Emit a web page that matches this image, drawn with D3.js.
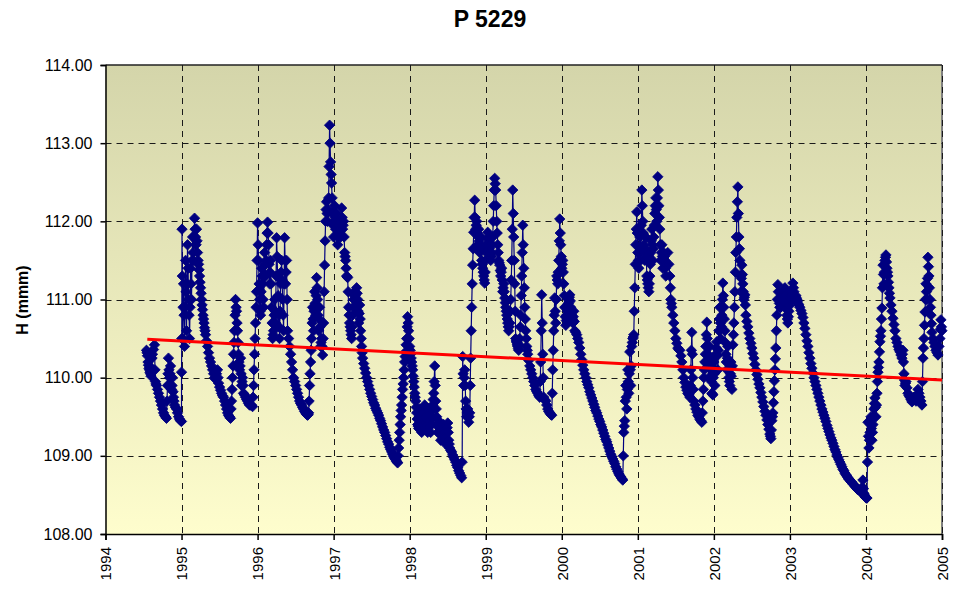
<!DOCTYPE html>
<html><head><meta charset="utf-8">
<script src="https://cdn.jsdelivr.net/npm/d3@7"></script>
<style>
body{margin:0;background:#fff}
svg{display:block}
text{font-family:"Liberation Sans",Arial,sans-serif}
</style>
</head><body>
<svg id="c" width="962" height="590"></svg>
<script>
// Groundwater level H (mmm) for piezometer P 5229 — per year: [fraction of year, level]
const y1994 = [[.539,110.35],[.546,110.32],[.552,110.28],[.559,110.2],[.565,110.16],[.572,110.12],[.579,110.1],[.585,110.07],[.592,110.05],[.598,110.02],[.605,110.12],[.612,110.25],[.618,110.3],[.631,110.36],[.644,110.42],[.651,110.1],[.657,109.95],[.664,109.92],[.671,109.9],[.684,109.85],[.697,109.8],[.710,109.75],[.723,109.7],[.736,109.65],[.750,109.6],[.763,109.55],[.776,109.52],[.789,109.5],[.802,109.48],[.809,109.7],[.815,109.9],[.822,110.05],[.828,110.25],[.835,110.1],[.842,110.0],[.848,110.05],[.855,110.15],[.862,110.0],[.868,109.85],[.875,109.9],[.881,110.0],[.888,109.82],[.894,109.75],[.901,109.7],[.907,109.65],[.921,109.62],[.934,109.6],[.947,109.55],[.960,109.5],[.973,109.47],[.986,109.45],[.999,109.44]];
const y1995 = [[.000,110.07],[.003,110.5],[.006,111.9],[.010,111.3],[.013,110.5],[.020,110.9],[.026,111.2],[.033,110.8],[.039,110.4],[.046,110.9],[.053,111.5],[.059,111.1],[.066,110.6],[.072,111.2],[.079,111.7],[.086,111.4],[.092,111.0],[.099,110.8],[.105,110.5],[.112,110.9],[.118,111.4],[.125,111.2],[.131,111.0],[.138,111.5],[.145,111.8],[.151,111.6],[.158,111.5],[.164,111.8],[.171,112.04],[.178,111.9],[.184,111.8],[.191,111.7],[.197,111.9],[.204,111.75],[.210,111.6],[.217,111.5],[.224,111.45],[.230,111.38],[.237,111.3],[.243,111.22],[.250,111.15],[.257,111.08],[.263,111.0],[.270,110.93],[.276,110.87],[.283,110.8],[.289,110.75],[.296,110.7],[.302,110.64],[.309,110.6],[.316,110.55],[.329,110.47],[.342,110.4],[.355,110.32],[.368,110.25],[.381,110.2],[.394,110.15],[.408,110.1],[.421,110.05],[.434,110.0],[.447,109.98],[.460,110.05],[.473,110.1],[.480,110.0],[.487,109.93],[.500,109.88],[.513,109.84],[.526,109.8],[.539,109.77],[.552,109.75],[.566,109.7],[.579,109.65],[.592,109.6],[.605,109.55],[.618,109.52],[.631,109.5],[.644,109.48],[.651,109.6],[.657,109.7],[.664,109.85],[.671,110.0],[.677,110.15],[.684,110.3],[.690,110.45],[.697,110.6],[.704,110.8],[.710,111.0],[.717,110.9],[.723,110.85],[.730,110.7],[.736,110.6],[.743,110.45],[.750,110.3],[.756,110.2],[.763,110.1],[.770,110.15],[.776,110.25],[.783,110.05],[.789,109.9],[.796,109.95],[.802,110.0],[.809,109.9],[.815,109.8],[.828,109.78],[.842,109.75],[.855,109.72],[.868,109.7],[.881,109.67],[.894,109.65],[.907,109.65],[.920,109.65],[.934,109.63],[.940,109.75],[.947,109.9],[.953,110.1],[.960,110.3],[.967,110.5],[.973,110.7],[.980,110.9],[.986,111.1],[.993,111.5]];
const y1996 = [[.000,111.98],[.007,111.7],[.013,111.5],[.020,111.2],[.026,111.0],[.033,110.85],[.039,110.8],[.046,111.1],[.053,111.4],[.059,111.3],[.066,111.2],[.072,111.0],[.079,110.9],[.086,111.3],[.092,111.6],[.099,111.45],[.105,111.3],[.112,111.5],[.118,111.7],[.125,111.85],[.131,111.99],[.138,111.85],[.145,111.7],[.151,111.45],[.158,111.2],[.164,111.35],[.171,111.5],[.178,111.2],[.184,110.9],[.191,110.7],[.197,110.5],[.204,110.55],[.210,110.6],[.217,110.8],[.224,111.0],[.230,110.85],[.237,110.7],[.243,111.3],[.250,111.79],[.257,111.55],[.263,111.3],[.270,111.05],[.276,110.8],[.283,110.65],[.289,110.5],[.296,110.85],[.302,111.2],[.309,111.35],[.316,111.5],[.322,111.25],[.329,111.0],[.336,110.8],[.342,110.6],[.349,111.2],[.355,111.79],[.362,111.5],[.368,111.2],[.375,111.35],[.381,111.5],[.388,111.0],[.394,110.6],[.408,110.5],[.421,110.4],[.434,110.3],[.447,110.2],[.460,110.1],[.473,110.0],[.487,109.95],[.500,109.9],[.513,109.85],[.526,109.8],[.539,109.75],[.552,109.7],[.566,109.67],[.579,109.65],[.592,109.62],[.605,109.6],[.618,109.57],[.631,109.55],[.644,109.53],[.657,109.52],[.664,109.53],[.671,109.55],[.677,109.7],[.684,109.9],[.690,110.05],[.697,110.2],[.704,110.35],[.710,110.5],[.717,110.7],[.723,110.9],[.730,110.75],[.736,110.6],[.743,110.85],[.750,111.1],[.756,110.95],[.763,110.8],[.770,111.05],[.776,111.28],[.783,111.15],[.789,111.0],[.796,110.8],[.802,110.6],[.809,110.75],[.815,110.9],[.822,110.65],[.828,110.4],[.835,110.45],[.842,110.5],[.848,110.4],[.855,110.29],[.862,110.5],[.868,110.7],[.875,111.1],[.881,111.44],[.888,111.75],[.894,112.0],[.901,112.15],[.907,112.25],[.914,112.1],[.920,112.0],[.927,112.15],[.934,112.3],[.940,112.7],[.947,113.23],[.953,113.0],[.960,112.76],[.967,112.6],[.973,112.49],[.980,112.3],[.986,112.1],[.993,111.95]];
const y1997 = [[.000,111.8],[.007,112.0],[.013,112.2],[.020,112.05],[.026,111.9],[.033,112.0],[.039,112.1],[.046,111.9],[.053,111.7],[.059,111.8],[.066,111.9],[.072,111.95],[.079,112.0],[.086,111.9],[.092,111.8],[.099,112.0],[.105,112.17],[.112,112.05],[.118,111.9],[.125,111.95],[.131,112.0],[.138,111.8],[.145,111.6],[.151,111.55],[.158,111.5],[.164,111.4],[.171,111.3],[.178,111.29],[.184,111.28],[.191,111.1],[.197,110.9],[.204,110.8],[.210,110.7],[.217,110.65],[.224,110.6],[.230,110.55],[.237,110.5],[.243,110.65],[.250,110.8],[.257,110.9],[.263,111.0],[.270,111.05],[.276,111.1],[.283,111.05],[.289,111.0],[.296,111.08],[.302,111.15],[.309,111.08],[.316,111.0],[.322,110.85],[.329,110.7],[.336,110.82],[.342,110.93],[.349,110.75],[.355,110.6],[.362,110.5],[.368,110.4],[.375,110.32],[.381,110.25],[.395,110.18],[.408,110.12],[.421,110.06],[.434,110.0],[.447,109.95],[.460,109.9],[.474,109.85],[.487,109.8],[.500,109.76],[.513,109.72],[.526,109.68],[.539,109.65],[.552,109.61],[.565,109.58],[.579,109.55],[.592,109.52],[.605,109.48],[.618,109.45],[.631,109.41],[.644,109.37],[.658,109.33],[.671,109.3],[.684,109.26],[.697,109.22],[.710,109.18],[.723,109.15],[.737,109.11],[.750,109.08],[.763,109.05],[.776,109.02],[.789,108.99],[.802,108.97],[.815,108.95],[.828,108.93],[.835,108.92],[.842,108.91],[.848,109.0],[.855,109.1],[.862,109.2],[.868,109.3],[.875,109.4],[.881,109.5],[.888,109.58],[.894,109.65],[.901,109.75],[.907,109.85],[.914,109.92],[.920,110.0],[.927,110.1],[.934,110.2],[.940,110.27],[.947,110.33],[.953,110.42],[.960,110.5],[.967,110.65],[.973,110.78],[.980,110.7],[.986,110.6],[.993,110.5]];
const y1998 = [[.000,110.4],[.007,110.35],[.013,110.3],[.020,110.25],[.026,110.2],[.033,110.15],[.039,110.1],[.046,110.02],[.053,109.95],[.059,109.88],[.066,109.8],[.072,109.75],[.079,109.7],[.086,109.62],[.092,109.55],[.099,109.47],[.105,109.4],[.112,109.38],[.118,109.35],[.125,109.5],[.131,109.6],[.138,109.52],[.145,109.45],[.151,109.38],[.158,109.3],[.164,109.42],[.171,109.55],[.178,109.48],[.184,109.4],[.191,109.52],[.197,109.65],[.204,109.5],[.210,109.35],[.217,109.42],[.224,109.5],[.230,109.4],[.237,109.3],[.243,109.45],[.250,109.6],[.257,109.52],[.263,109.45],[.270,109.38],[.276,109.3],[.283,109.4],[.289,109.5],[.296,109.58],[.302,109.65],[.309,109.72],[.316,109.8],[.322,109.95],[.329,110.15],[.336,109.9],[.342,109.7],[.349,109.6],[.355,109.5],[.362,109.4],[.368,109.3],[.375,109.38],[.381,109.45],[.388,109.4],[.394,109.35],[.401,109.28],[.408,109.2],[.414,109.28],[.421,109.35],[.428,109.3],[.434,109.25],[.441,109.32],[.447,109.4],[.454,109.35],[.460,109.3],[.467,109.22],[.473,109.15],[.480,109.22],[.487,109.3],[.493,109.36],[.500,109.42],[.507,109.3],[.513,109.2],[.520,109.15],[.526,109.1],[.539,109.07],[.552,109.05],[.566,109.01],[.579,108.98],[.592,108.95],[.605,108.92],[.618,108.88],[.631,108.85],[.644,108.81],[.657,108.78],[.671,108.75],[.684,108.72],[.690,108.92],[.697,110.27],[.703,110.05],[.710,109.9],[.717,110.0],[.723,110.1],[.730,109.9],[.736,109.7],[.743,109.6],[.750,109.5],[.756,109.55],[.763,109.6],[.770,109.5],[.776,109.43],[.783,109.5],[.789,109.55],[.796,109.9],[.802,110.25],[.809,110.6],[.815,110.9],[.822,111.2],[.828,111.44],[.835,111.65],[.842,111.86],[.848,112.05],[.855,112.27],[.862,112.05],[.868,111.9],[.875,111.95],[.881,112.0],[.888,111.85],[.894,111.7],[.901,111.8],[.907,111.9],[.914,111.75],[.920,111.6],[.927,111.7],[.934,111.8],[.940,111.65],[.947,111.5],[.953,111.45],[.960,111.4],[.967,111.35],[.973,111.3],[.980,111.25],[.986,111.21],[.993,111.35]];
const y1999 = [[.000,111.5],[.007,111.6],[.013,111.7],[.020,111.78],[.026,111.86],[.033,111.72],[.039,111.6],[.046,111.65],[.053,111.7],[.059,111.6],[.066,111.5],[.072,111.55],[.079,111.6],[.086,111.7],[.092,111.8],[.099,112.0],[.105,112.2],[.112,112.4],[.118,112.55],[.125,112.48],[.131,112.4],[.138,112.2],[.145,112.0],[.151,111.85],[.158,111.7],[.164,111.6],[.171,111.5],[.178,111.47],[.184,111.44],[.191,111.37],[.197,111.3],[.204,111.35],[.210,111.4],[.217,111.25],[.224,111.1],[.230,111.15],[.237,111.2],[.243,111.1],[.250,111.02],[.257,110.96],[.263,110.9],[.270,110.85],[.276,110.8],[.283,110.75],[.289,110.7],[.296,110.65],[.302,110.6],[.309,110.65],[.316,110.7],[.322,110.85],[.329,111.0],[.336,111.25],[.342,111.5],[.349,111.9],[.355,112.4],[.362,112.1],[.368,111.8],[.375,111.5],[.381,111.2],[.388,110.85],[.394,110.5],[.401,110.47],[.408,110.45],[.414,110.42],[.421,110.4],[.428,110.37],[.434,110.35],[.441,110.42],[.447,110.5],[.454,110.65],[.460,110.8],[.467,111.05],[.473,111.3],[.480,111.6],[.487,111.95],[.493,111.7],[.500,111.4],[.507,111.15],[.513,110.9],[.520,110.75],[.526,110.6],[.533,110.5],[.539,110.4],[.546,110.35],[.552,110.3],[.566,110.22],[.579,110.15],[.592,110.1],[.605,110.05],[.618,110.0],[.631,109.95],[.644,109.9],[.657,109.85],[.671,109.82],[.684,109.8],[.697,109.77],[.710,109.75],[.717,109.95],[.723,110.2],[.730,110.6],[.736,111.06],[.743,110.7],[.750,110.3],[.756,110.0],[.763,109.75],[.776,109.72],[.789,109.7],[.802,109.65],[.815,109.6],[.828,109.57],[.842,109.55],[.855,109.53],[.868,109.52],[.875,109.8],[.881,110.1],[.888,110.35],[.894,110.6],[.901,110.8],[.907,111.02],[.914,110.85],[.920,110.7],[.927,111.0],[.934,111.3],[.940,111.25],[.947,111.2],[.953,111.35],[.960,111.5],[.967,111.75],[.973,112.03],[.980,111.85],[.986,111.7],[.993,111.55]];
const y2000 = [[.000,111.4],[.007,111.45],[.013,111.5],[.020,111.35],[.026,111.2],[.033,111.05],[.039,110.9],[.046,110.78],[.053,110.67],[.059,110.73],[.066,110.8],[.072,110.85],[.079,110.9],[.086,110.95],[.092,111.0],[.099,111.03],[.105,111.06],[.112,110.98],[.118,110.9],[.125,110.85],[.131,110.8],[.138,110.75],[.145,110.7],[.151,110.78],[.158,110.85],[.164,110.72],[.171,110.6],[.184,110.58],[.197,110.55],[.210,110.5],[.224,110.45],[.237,110.38],[.250,110.3],[.263,110.23],[.276,110.16],[.289,110.1],[.302,110.05],[.316,110.0],[.329,109.95],[.342,109.91],[.355,109.87],[.368,109.82],[.381,109.78],[.395,109.74],[.408,109.7],[.421,109.66],[.434,109.62],[.447,109.58],[.460,109.55],[.474,109.51],[.487,109.47],[.500,109.44],[.513,109.4],[.526,109.37],[.539,109.33],[.552,109.29],[.565,109.25],[.579,109.21],[.592,109.18],[.605,109.14],[.618,109.1],[.631,109.06],[.644,109.02],[.658,108.99],[.671,108.96],[.684,108.93],[.697,108.9],[.710,108.86],[.723,108.83],[.737,108.8],[.750,108.77],[.763,108.75],[.776,108.73],[.789,108.71],[.802,108.69],[.809,109.0],[.815,109.3],[.822,109.38],[.828,109.45],[.835,109.7],[.842,109.9],[.848,109.75],[.855,109.6],[.862,109.85],[.868,110.1],[.875,109.95],[.881,109.8],[.888,110.05],[.894,110.33],[.901,110.1],[.907,109.9],[.914,110.15],[.920,110.4],[.927,110.45],[.934,110.5],[.940,110.52],[.947,110.55],[.953,110.85],[.960,111.15],[.967,111.45],[.973,111.7],[.980,111.9],[.986,112.12],[.993,111.85]];
const y2001 = [[.000,111.6],[.007,111.5],[.013,111.4],[.020,111.6],[.026,111.8],[.033,111.65],[.039,111.5],[.046,111.95],[.053,112.4],[.059,112.2],[.066,112.0],[.072,111.85],[.079,111.7],[.086,111.6],[.092,111.5],[.099,111.65],[.105,111.8],[.112,111.55],[.118,111.3],[.125,111.25],[.131,111.2],[.138,111.15],[.145,111.1],[.151,111.2],[.158,111.3],[.164,111.45],[.171,111.6],[.178,111.75],[.184,111.9],[.191,111.7],[.197,111.5],[.204,111.65],[.210,111.8],[.217,111.95],[.224,112.1],[.230,112.2],[.237,112.3],[.243,112.15],[.250,112.0],[.257,112.3],[.263,112.57],[.270,112.4],[.276,112.2],[.283,112.05],[.289,111.9],[.296,111.7],[.302,111.5],[.309,111.6],[.316,111.7],[.322,111.55],[.329,111.4],[.336,111.5],[.342,111.6],[.349,111.55],[.355,111.5],[.362,111.4],[.368,111.3],[.381,111.45],[.394,111.6],[.408,111.45],[.421,111.3],[.428,111.15],[.434,111.0],[.441,110.95],[.447,110.9],[.460,110.8],[.473,110.7],[.487,110.6],[.500,110.5],[.513,110.44],[.526,110.38],[.539,110.36],[.552,110.35],[.566,110.28],[.579,110.2],[.592,110.1],[.605,110.0],[.618,109.94],[.631,109.88],[.644,109.84],[.657,109.8],[.671,109.78],[.684,109.75],[.690,109.9],[.697,110.1],[.704,110.35],[.710,110.58],[.717,110.3],[.723,110.0],[.730,109.85],[.736,109.7],[.750,109.65],[.763,109.6],[.776,109.56],[.789,109.52],[.802,109.5],[.815,109.47],[.828,109.45],[.842,109.43],[.848,109.55],[.855,109.7],[.862,109.85],[.868,110.0],[.875,110.1],[.881,110.2],[.888,110.3],[.894,110.4],[.901,110.55],[.907,110.71],[.914,110.5],[.920,110.3],[.927,110.15],[.934,110.0],[.940,110.2],[.947,110.4],[.953,110.25],[.960,110.1],[.967,109.95],[.973,109.8],[.980,109.79],[.986,109.78],[.993,110.0]];
const y2002 = [[.000,110.2],[.007,110.05],[.013,109.9],[.020,110.1],[.026,110.3],[.033,110.38],[.039,110.46],[.046,110.28],[.053,110.1],[.059,110.35],[.066,110.6],[.072,110.75],[.079,110.9],[.086,110.7],[.092,110.5],[.099,110.65],[.105,110.8],[.112,111.0],[.118,111.21],[.125,111.05],[.131,110.9],[.138,110.75],[.145,110.6],[.151,110.45],[.158,110.3],[.164,110.2],[.171,110.1],[.178,110.25],[.184,110.4],[.191,110.2],[.197,110.0],[.204,109.95],[.210,109.9],[.217,110.05],[.224,110.2],[.230,110.02],[.237,109.85],[.243,110.15],[.250,110.42],[.257,110.55],[.263,110.7],[.270,110.9],[.276,111.1],[.283,111.35],[.289,111.6],[.296,111.8],[.302,112.05],[.309,112.25],[.316,112.44],[.322,112.1],[.329,111.8],[.336,111.65],[.342,111.5],[.349,111.3],[.355,111.1],[.362,111.27],[.368,111.44],[.375,111.32],[.381,111.2],[.388,111.1],[.394,111.0],[.401,111.03],[.408,111.06],[.414,110.93],[.421,110.8],[.434,110.72],[.447,110.65],[.460,110.57],[.473,110.5],[.487,110.44],[.500,110.38],[.513,110.31],[.526,110.25],[.539,110.17],[.552,110.1],[.566,110.04],[.579,109.98],[.592,109.92],[.605,109.87],[.618,109.81],[.631,109.75],[.644,109.69],[.657,109.63],[.671,109.57],[.684,109.52],[.697,109.46],[.710,109.4],[.723,109.34],[.736,109.28],[.743,109.25],[.750,109.22],[.756,109.33],[.763,109.45],[.770,109.5],[.776,109.55],[.783,109.68],[.789,109.82],[.796,109.96],[.802,110.1],[.809,110.24],[.815,110.38],[.822,110.6],[.828,110.8],[.835,111.0],[.842,111.19],[.848,111.1],[.855,111.0],[.862,110.95],[.868,110.9],[.875,110.9],[.881,110.9],[.888,110.95],[.894,111.0],[.901,111.05],[.907,111.1],[.914,111.05],[.920,111.0],[.927,111.07],[.934,111.15],[.940,111.05],[.947,110.95],[.953,110.88],[.960,110.8],[.967,110.75],[.973,110.7],[.980,110.78],[.986,110.85],[.993,110.92]];
const y2003 = [[.000,111.0],[.007,111.05],[.013,111.1],[.020,111.05],[.026,111.0],[.033,111.1],[.039,111.21],[.046,111.15],[.053,111.1],[.059,111.05],[.066,111.0],[.072,111.03],[.079,111.05],[.086,111.02],[.092,111.0],[.099,110.98],[.105,110.95],[.118,110.93],[.131,110.9],[.145,110.86],[.158,110.82],[.171,110.77],[.184,110.7],[.197,110.63],[.210,110.55],[.224,110.47],[.237,110.4],[.250,110.32],[.263,110.25],[.276,110.18],[.289,110.12],[.302,110.06],[.316,110.0],[.329,109.95],[.342,109.9],[.355,109.85],[.368,109.8],[.381,109.75],[.394,109.7],[.408,109.65],[.421,109.6],[.434,109.56],[.447,109.52],[.460,109.48],[.473,109.44],[.487,109.39],[.500,109.35],[.513,109.31],[.526,109.27],[.539,109.23],[.552,109.2],[.566,109.16],[.579,109.12],[.592,109.08],[.605,109.05],[.618,109.01],[.631,108.98],[.644,108.95],[.657,108.92],[.671,108.89],[.684,108.86],[.697,108.83],[.710,108.81],[.723,108.78],[.736,108.76],[.750,108.74],[.763,108.72],[.776,108.7],[.789,108.69],[.802,108.67],[.815,108.66],[.828,108.64],[.842,108.63],[.855,108.61],[.868,108.6],[.881,108.58],[.894,108.57],[.907,108.56],[.920,108.55],[.934,108.54],[.947,108.53],[.953,108.6],[.960,108.69],[.967,108.58],[.973,108.52],[.980,108.5],[.986,108.48],[.993,108.47]];
const y2004 = [[.000,108.47],[.007,108.46],[.013,108.46],[.020,108.92],[.026,109.43],[.033,109.25],[.039,109.1],[.046,109.2],[.053,109.3],[.059,109.4],[.066,109.5],[.072,109.35],[.079,109.2],[.086,109.3],[.092,109.4],[.099,109.5],[.105,109.6],[.112,109.67],[.118,109.74],[.125,109.62],[.131,109.5],[.138,109.65],[.145,109.8],[.151,109.95],[.158,110.07],[.164,110.13],[.171,110.2],[.178,110.33],[.184,110.46],[.191,110.53],[.197,110.6],[.204,110.75],[.210,110.89],[.217,111.15],[.224,111.44],[.230,111.32],[.237,111.2],[.243,111.35],[.250,111.5],[.257,111.54],[.263,111.57],[.270,111.48],[.276,111.4],[.283,111.35],[.289,111.3],[.296,111.22],[.302,111.15],[.309,111.08],[.316,111.02],[.329,110.93],[.342,110.85],[.355,110.76],[.368,110.68],[.381,110.6],[.394,110.5],[.408,110.45],[.421,110.4],[.434,110.36],[.447,110.33],[.460,110.29],[.473,110.25],[.480,110.3],[.487,110.35],[.493,110.2],[.500,110.05],[.507,109.97],[.513,109.9],[.520,109.93],[.526,109.95],[.539,109.87],[.552,109.8],[.566,109.77],[.579,109.75],[.592,109.72],[.605,109.69],[.618,109.72],[.631,109.75],[.644,109.72],[.658,109.7],[.671,109.78],[.684,109.85],[.697,109.8],[.710,109.75],[.723,109.7],[.736,109.65],[.743,109.95],[.750,110.25],[.756,110.38],[.763,110.5],[.770,110.67],[.776,110.84],[.783,111.0],[.789,111.2],[.796,111.1],[.802,111.0],[.809,111.27],[.815,111.54],[.822,111.42],[.828,111.3],[.835,111.15],[.842,111.0],[.848,110.9],[.855,110.8],[.862,110.69],[.868,110.58],[.881,110.5],[.894,110.45],[.907,110.4],[.920,110.35],[.934,110.32],[.947,110.29],[.960,110.4],[.973,110.5],[.980,110.62],[.986,110.74],[.993,110.65],[.999,110.6]];

const seriesYears = [1994,1995,1996,1997,1998,1999,2000,2001,2002,2003,2004];
const seriesByYear = [y1994,y1995,y1996,y1997,y1998,y1999,y2000,y2001,y2002,y2003,y2004];

// linear trend line end points [decimal year, level]
const trend = [[1994.55,110.49],[2005.0,109.97]];

const xTicks = [1994,1995,1996,1997,1998,1999,2000,2001,2002,2003,2004,2005];
const yTicks = [108,109,110,111,112,113,114];
const chartTitle = "P 5229";
const yTitle = "H (mmm)";

const data = seriesYears.flatMap((yr,i) => seriesByYear[i].map(([f,v]) => ({t: yr + f, v})));

const svg = d3.select("#c");
const L = 105.5, R = 942, T = 65, B = 534;
const x = d3.scaleLinear().domain([1994,2005]).range([L,R]);
const y = d3.scaleLinear().domain([108,114]).range([B,T]);

const defs = svg.append("defs");
const grad = defs.append("linearGradient").attr("id","bg").attr("x1",0).attr("y1",0).attr("x2",0).attr("y2",1);
grad.append("stop").attr("offset","0%").attr("stop-color","#d4d5aa");
grad.append("stop").attr("offset","100%").attr("stop-color","#fefdcd");

svg.append("rect").attr("x",L).attr("y",T).attr("width",R-L).attr("height",B-T).attr("fill","url(#bg)");

// right border (gray) and top border
svg.append("line").attr("x1",R).attr("x2",R).attr("y1",T).attr("y2",B).attr("stroke","#808080").attr("stroke-width",2);
svg.append("line").attr("x1",L).attr("x2",R).attr("y1",T).attr("y2",T).attr("stroke","#222").attr("stroke-width",1.5);

// gridlines
const grid = svg.append("g").attr("stroke","#1a1a1a").attr("stroke-width",1).attr("stroke-dasharray","6,5").attr("fill","none");
grid.selectAll(".hg").data(yTicks.filter(d => d > 108 && d < 114)).join("line")
  .attr("x1",L).attr("x2",R).attr("y1",d => Math.round(y(d))+0.5).attr("y2",d => Math.round(y(d))+0.5);
grid.selectAll(".vg").data(xTicks.filter(d => d > 1994)).join("line")
  .attr("x1",d => Math.round(x(d))+0.5).attr("x2",d => Math.round(x(d))+0.5).attr("y1",T).attr("y2",B);

// series line
svg.append("path").datum(data)
  .attr("fill","none").attr("stroke","#000080").attr("stroke-width",1.2)
  .attr("d", d3.line().x(d => x(d.t)).y(d => y(d.v)));

// diamond markers
const diamond = d3.symbol(d3.symbolSquare, 54)();
svg.append("g").selectAll("path").data(data).join("path")
  .attr("d", diamond)
  .attr("transform", d => `translate(${x(d.t)},${y(d.v)}) rotate(45)`)
  .attr("fill","#000080").attr("stroke","#000080").attr("stroke-width",0.8);

// trend line
svg.append("path").datum(trend)
  .attr("fill","none").attr("stroke","#ff0000").attr("stroke-width",3)
  .attr("d", d3.line().x(d => x(d[0])).y(d => y(d[1])));

// axes
const yAxis = svg.append("g").attr("transform",`translate(${L},0)`)
  .call(d3.axisLeft(y).tickValues(yTicks).tickFormat(d3.format(".2f")).tickSize(5).tickPadding(8));
yAxis.selectAll("text").attr("font-size",16).attr("fill","#000").attr("font-family","Liberation Sans, Arial, sans-serif");
yAxis.selectAll("line,path").attr("stroke","#000").attr("stroke-width",1.5);

const xAxis = svg.append("g").attr("transform",`translate(0,${B})`)
  .call(d3.axisBottom(x).tickValues(xTicks).tickFormat(d3.format("d")).tickSize(6));
xAxis.selectAll("text").attr("font-size",15).attr("fill","#000").attr("font-family","Liberation Sans, Arial, sans-serif")
  .attr("transform","rotate(-90)").attr("text-anchor","end").attr("x",-13).attr("y",0).attr("dy","0.36em");
xAxis.selectAll("line,path").attr("stroke","#000").attr("stroke-width",1.5);

// titles
svg.append("text").attr("x",490).attr("y",27).attr("text-anchor","middle")
  .attr("font-size",23).attr("font-weight","bold").text(chartTitle);
svg.append("text").attr("transform","translate(28,300) rotate(-90)").attr("text-anchor","middle")
  .attr("font-size",16).attr("font-weight","bold").text(yTitle);
</script>
</body></html>
